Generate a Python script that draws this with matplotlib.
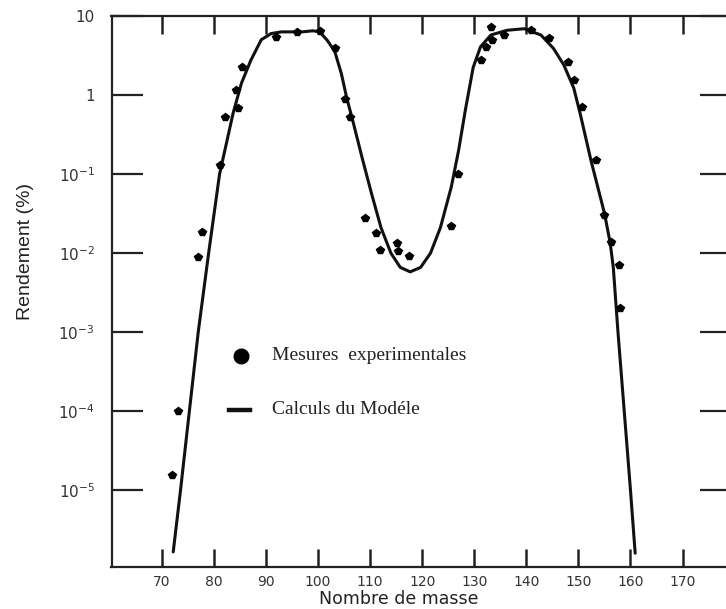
import matplotlib
matplotlib.use("Agg")
import matplotlib.pyplot as plt
from matplotlib.lines import Line2D
from matplotlib.ticker import NullLocator

# Model calculation: mass number vs. yield (%)
model_mass = [72.2, 73.6, 75.3, 77.0, 79.0, 81.1, 83.7, 85.3, 87.1, 89.1,
              91.0, 93.0, 95.0, 97.0, 99.0, 100.3, 101.7, 103.2, 104.5, 105.5,
              106.8, 108.5, 110.3, 112.1, 114.0, 115.8, 117.7, 119.7, 121.6, 123.5,
              125.6, 127.0, 128.3, 129.8, 131.2, 133.2, 136.3, 139.6, 142.8, 145.2,
              147.2, 149.1, 150.4, 152.4, 155.0, 156.1, 156.7, 157.6, 158.8, 160.0,
              160.9]
model_yield = [1.66e-6, 1.0e-5, 1.0e-4, 1.0e-3, 1.0e-2, 0.10, 0.59, 1.41, 2.75, 5.0,
               6.0, 6.3, 6.3, 6.3, 6.5, 6.3, 5.0, 3.6, 1.85, 0.93,
               0.44, 0.158, 0.056, 0.021, 0.010, 0.0066, 0.0058, 0.0066, 0.010, 0.021,
               0.069, 0.20, 0.65, 2.24, 4.07, 5.75, 6.6, 6.9, 5.75, 3.9,
               2.4, 1.23, 0.56, 0.15, 0.032, 0.0135, 0.0066, 1.0e-3, 1.0e-4, 1.0e-5,
               1.6e-6]

# Experimental measurements
exp_mass = [71.9, 73.1, 76.9, 77.7, 81.2, 82.1, 84.3, 84.7, 85.5, 92.0,
            96.0, 100.3, 103.3, 105.2, 106.1, 109.1, 111.2, 112.0, 115.1, 115.3,
            117.4, 125.5, 126.9, 131.3, 132.3, 133.4, 133.2, 135.7, 140.9, 144.4,
            148.0, 149.1, 150.7, 153.4, 154.9, 156.2, 157.7, 157.9]
exp_yield = [1.55e-5, 1.02e-4, 8.9e-3, 0.0186, 0.129, 0.525, 1.15, 0.69, 2.24, 5.5,
             6.2, 6.5, 3.9, 0.89, 0.525, 0.0275, 0.0178, 0.011, 0.0135, 0.0107,
             0.0093, 0.022, 0.10, 2.75, 4.07, 5.0, 7.2, 5.75, 6.6, 5.25,
             2.63, 1.55, 0.71, 0.15, 0.030, 0.0138, 0.0071, 0.0020]

x_ticks = [70, 80, 90, 100, 110, 120, 130, 140, 150, 160, 170]
y_ticks = [1e-5, 1e-4, 1e-3, 1e-2, 1e-1, 1, 10]
y_ticklabels = [r"$10^{-5}$", r"$10^{-4}$", r"$10^{-3}$", r"$10^{-2}$",
                r"$10^{-1}$", "1", "10"]

W, H = 726, 609
fig = plt.figure(figsize=(W / 100, H / 100), dpi=100)
fig.patch.set_facecolor("white")

left, right, top, bottom = 111.5, 731.0, 16.0, 567.0
ax = fig.add_axes([left / W, 1 - bottom / H, (right - left) / W, (bottom - top) / H])

ax.plot(model_mass, model_yield, color="#111111", lw=2.2, solid_capstyle="round",
        solid_joinstyle="round", zorder=2)
ax.plot(exp_mass, exp_yield, linestyle="none", marker="p", ms=6,
        color="black", zorder=3)

ax.set_yscale("log")
ax.set_xlim(60.35, 179.3)
ax.set_ylim(1.07e-6, 10)

ax.set_xticks(x_ticks)
ax.set_xticklabels([str(t) for t in x_ticks])
ax.set_yticks(y_ticks)
ax.set_yticklabels(y_ticklabels)
ax.yaxis.set_minor_locator(NullLocator())
ax.xaxis.set_minor_locator(NullLocator())

ax.tick_params(axis="x", direction="in", length=13, width=1.8, top=True,
               bottom=True, labelsize=10, pad=6, labelcolor="#333333",
               color="#222222")
ax.tick_params(axis="y", direction="in", length=22, width=1.6, left=True,
               right=True, labelsize=11, pad=12, labelcolor="#333333",
               color="#222222")
for sp in ax.spines.values():
    sp.set_linewidth(1.6)
    sp.set_color("#222222")

# Legend and axis titles placed in figure pixel space
def fx(x):
    return x / W

def fy(y):
    return 1 - y / H

fig.text(fx(399), fy(599), "Nombre de masse", fontsize=12.5, color="#222222",
         ha="center", va="center")
fig.text(fx(25), fy(252), "Rendement (%)", rotation=90, ha="center",
         va="center", fontsize=14, color="#222222",
         family=["Liberation Sans Narrow", "Liberation Sans", "DejaVu Sans"])

fig.add_artist(Line2D([fx(241)], [fy(356)], marker="o", ms=10.5,
                      color="black", linestyle="none"))
fig.add_artist(Line2D([fx(229), fx(250)], [fy(410), fy(410)], lw=3.2,
                      color="#111111"))
fig.text(fx(272), fy(356), "Mesures  experimentales", fontsize=14,
         family=["Liberation Serif", "DejaVu Serif"], color="#222222",
         va="center", ha="left")
fig.text(fx(272), fy(410), "Calculs du Modéle", fontsize=14,
         family=["Liberation Serif", "DejaVu Serif"], color="#222222",
         va="center", ha="left")

fig.savefig("out.png", dpi=100, facecolor="white")
